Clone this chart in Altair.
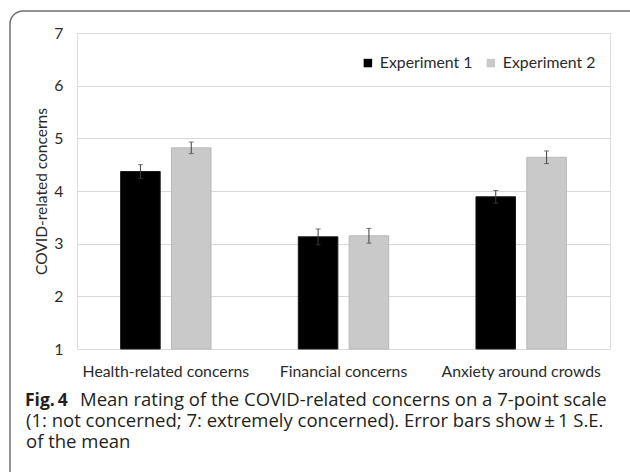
import altair as alt
import pandas as pd

# Concern categories and the two experiments
categories = ["Health-related concerns", "Financial concerns", "Anxiety around crowds"]
experiments = ["Experiment 1", "Experiment 2"]

# Mean ratings (7-point scale) and standard errors
mean_exp1 = [4.37, 3.13, 3.89]
mean_exp2 = [4.82, 3.15, 4.64]
se_exp1 = [0.13, 0.15, 0.12]
se_exp2 = [0.11, 0.14, 0.12]

y_ticks = [1, 2, 3, 4, 5, 6, 7]

rows = []
for exp, means, ses in [(experiments[0], mean_exp1, se_exp1), (experiments[1], mean_exp2, se_exp2)]:
    for cat, m, s in zip(categories, means, ses):
        rows.append({"category": cat, "experiment": exp, "mean": m, "low": m - s, "high": m + s})
df = pd.DataFrame(rows)

caption_bold = "Fig.\u20094"
caption_lines = [
    "Mean rating of the COVID-related concerns on a 7-point scale",
    "(1: not concerned; 7: extremely concerned). Error bars show\u2009\u00b1\u20091 S.E.",
    "of the mean",
]

W, H = 533, 316
LABEL_FONT = "Lato"
CAP_FONT = "Open Sans"
TXT = "#2b2b2b"

x_enc = alt.X("category:N", sort=categories, title=None,
              scale=alt.Scale(paddingInner=0, paddingOuter=0),
              axis=alt.Axis(labelAngle=0, labelFont=LABEL_FONT, labelFontSize=15.8,
                            labelColor=TXT, labelPadding=15, domain=False, ticks=False))
xoff = alt.XOffset("experiment:N", sort=experiments,
                   scale=alt.Scale(paddingInner=0.222, paddingOuter=0.858))

base = alt.Chart(df).encode(x=x_enc, xOffset=xoff)

bars = base.mark_bar(strokeWidth=1).encode(
    y=alt.Y("mean:Q", title="COVID-related concerns",
            scale=alt.Scale(domain=[1, 7], nice=False, zero=False),
            axis=alt.Axis(values=y_ticks, labelFont=LABEL_FONT, labelFontSize=15.8,
                          labelColor=TXT, labelPadding=14, domain=False, ticks=False,
                          gridColor="#d9d9d9", gridWidth=1.2,
                          titleFont=LABEL_FONT, titleFontSize=15.5, titleFontWeight="normal",
                          titleColor=TXT, titlePadding=4)),
    y2=alt.datum(1),
    color=alt.Color("experiment:N", sort=experiments,
                    scale=alt.Scale(domain=experiments, range=["#000000", "#c9c9c9"]),
                    legend=alt.Legend(title=None, orient="none", direction="horizontal",
                                      legendX=283, legendY=22, symbolType="square",
                                      symbolSize=72, symbolStrokeWidth=0,
                                      labelFont=LABEL_FONT, labelFontSize=15.8,
                                      labelColor=TXT, labelOffset=4, columnPadding=10)),
    stroke=alt.Stroke("experiment:N", sort=experiments,
                      scale=alt.Scale(domain=experiments, range=["#1a1a1a", "#b9b9b9"]),
                      legend=None),
)

err = base.mark_rule(color="#404040", strokeWidth=1).encode(y="low:Q", y2="high:Q")
cap_lo = base.mark_tick(color="#404040", thickness=1, size=5).encode(y="low:Q")
cap_hi = base.mark_tick(color="#404040", thickness=1, size=5).encode(y="high:Q")

# Rounded frame around figure and caption
frame = alt.Chart(pd.DataFrame({"k": [0]})).mark_rect(
    fill=None, stroke="#707070", strokeWidth=1.5, cornerRadius=13
).encode(x=alt.value(-67), x2=alt.value(585), y=alt.value(-22), y2=alt.value(455))

cap_df = pd.DataFrame({"k": [0]})
cap_bold = alt.Chart(cap_df).mark_text(
    text=caption_bold, font=CAP_FONT, fontSize=17.5, fontWeight="bold", color="#231f20",
    align="left", baseline="alphabetic"
).encode(x=alt.value(-52), y=alt.value(373))

cap_texts = []
for i, (line, xpos) in enumerate(zip(caption_lines, [3, -51, -51])):
    cap_texts.append(alt.Chart(cap_df).mark_text(
        text=line, font=CAP_FONT, fontSize=18.5, color="#231f20",
        align="left", baseline="alphabetic"
    ).encode(x=alt.value(xpos), y=alt.value(373 + 21 * i)))

chart = alt.layer(frame, bars, err, cap_lo, cap_hi, cap_bold, *cap_texts).properties(
    width=W, height=H,
    autosize=alt.AutoSizeParams(type="none"),
    padding={"left": 77, "top": 33, "right": 20, "bottom": 123},
).configure_view(stroke=None).configure(background="white")

chart.save("out.html", embed_options={"renderer": "svg", "actions": False})
